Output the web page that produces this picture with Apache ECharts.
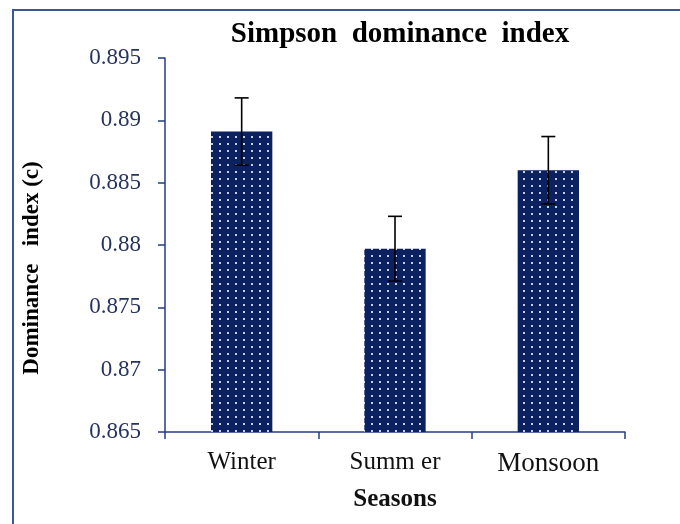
<!DOCTYPE html>
<html>
<head>
<meta charset="utf-8">
<script src="https://cdn.jsdelivr.net/npm/echarts@6/dist/echarts.min.js"></script>
<style>
html, body { margin: 0; padding: 0; background: #fff; }
#frame { position: absolute; left: 12px; top: 9px; width: 680px; height: 530px; border-left: 2px solid #3b5894; border-top: 2px solid #3b5894; }
#chart { position: absolute; left: 0; top: 0; width: 680px; height: 524px; }
</style>
</head>
<body>
<div id="frame"></div>
<div id="chart"></div>
<script>
var seasons = ['Winter', 'Summ er', 'Monsoon'];
var meanValues = [0.8891, 0.8797, 0.8860];
var errValues = [0.0027, 0.0026, 0.0027];

// 点状填充
var dotCanvas = document.createElement('canvas');
dotCanvas.width = 8;
dotCanvas.height = 7;
var ctx = dotCanvas.getContext('2d');
ctx.fillStyle = '#0b2160';
ctx.fillRect(0, 0, 8, 7);
ctx.fillStyle = '#c8d0e6';
ctx.fillRect(3, 3, 2, 2);

var myChart = echarts.init(document.getElementById('chart'));
var serif = 'Liberation Serif';
// Monsoon 的标签字号略大
var categoryData = seasons.map(function(s) {
	return s === 'Monsoon' ? { value: s, textStyle: { fontSize: 27 } } : s;
});
var option = {
	animation: false,
	title: {
		text: 'Simpson  dominance  index',
		left: 395,
		textAlign: 'center',
		top: 15,
		textStyle: { fontFamily: serif, fontWeight: 'bold', fontSize: 29, color: '#000' }
	},
	grid: { left: 165, right: 55, top: 58, bottom: 92 },
	xAxis: {
		type: 'category',
		data: categoryData,
		name: 'Seasons',
		nameLocation: 'middle',
		nameGap: 55,
		nameTextStyle: { fontFamily: serif, fontWeight: 'bold', fontSize: 25, color: '#111' },
		axisLine: { lineStyle: { color: '#233f80', width: 1.5 } },
		axisTick: { show: true, length: 7, lineStyle: { color: '#233f80', width: 1.5 } },
		axisLabel: { fontFamily: serif, fontSize: 25, color: '#111', margin: 18 }
	},
	yAxis: {
		type: 'value',
		min: 0.865,
		max: 0.895,
		interval: 0.005,
		name: 'Dominance   index (c)',
		nameLocation: 'middle',
		nameGap: 121,
		nameTextStyle: { fontFamily: serif, fontWeight: 'bold', fontSize: 23, color: '#000', padding: [0, 46, 0, 0] },
		splitLine: { show: false },
		axisLine: { show: true, lineStyle: { color: '#233f80', width: 1.5 } },
		axisTick: { show: true, length: 7, lineStyle: { color: '#233f80', width: 1.5 } },
		axisLabel: {
			fontFamily: serif, fontSize: 23, color: '#26335e', margin: 24,
			formatter: function(v) { return String(parseFloat(v.toFixed(3))); }
		}
	},
	series: [
		{
			type: 'bar',
			data: meanValues,
			barWidth: '40%',
			itemStyle: { color: { image: dotCanvas, repeat: 'repeat' } }
		},
		{
			type: 'custom',
			data: meanValues.map(function(v, i) { return [i, v - errValues[i], v + errValues[i]]; }),
			renderItem: function(params, api) {
				var lo = api.coord([api.value(0), api.value(1)]);
				var hi = api.coord([api.value(0), api.value(2)]);
				var w = 7;
				var style = { stroke: '#000', lineWidth: 1.6 };
				return {
					type: 'group',
					children: [
						{ type: 'line', shape: { x1: hi[0], y1: hi[1], x2: lo[0], y2: lo[1] }, style: style },
						{ type: 'line', shape: { x1: hi[0] - w, y1: hi[1], x2: hi[0] + w, y2: hi[1] }, style: style },
						{ type: 'line', shape: { x1: lo[0] - w, y1: lo[1], x2: lo[0] + w, y2: lo[1] }, style: style }
					]
				};
			},
			z: 5
		}
	]
};
myChart.setOption(option);
</script>
</body>
</html>
